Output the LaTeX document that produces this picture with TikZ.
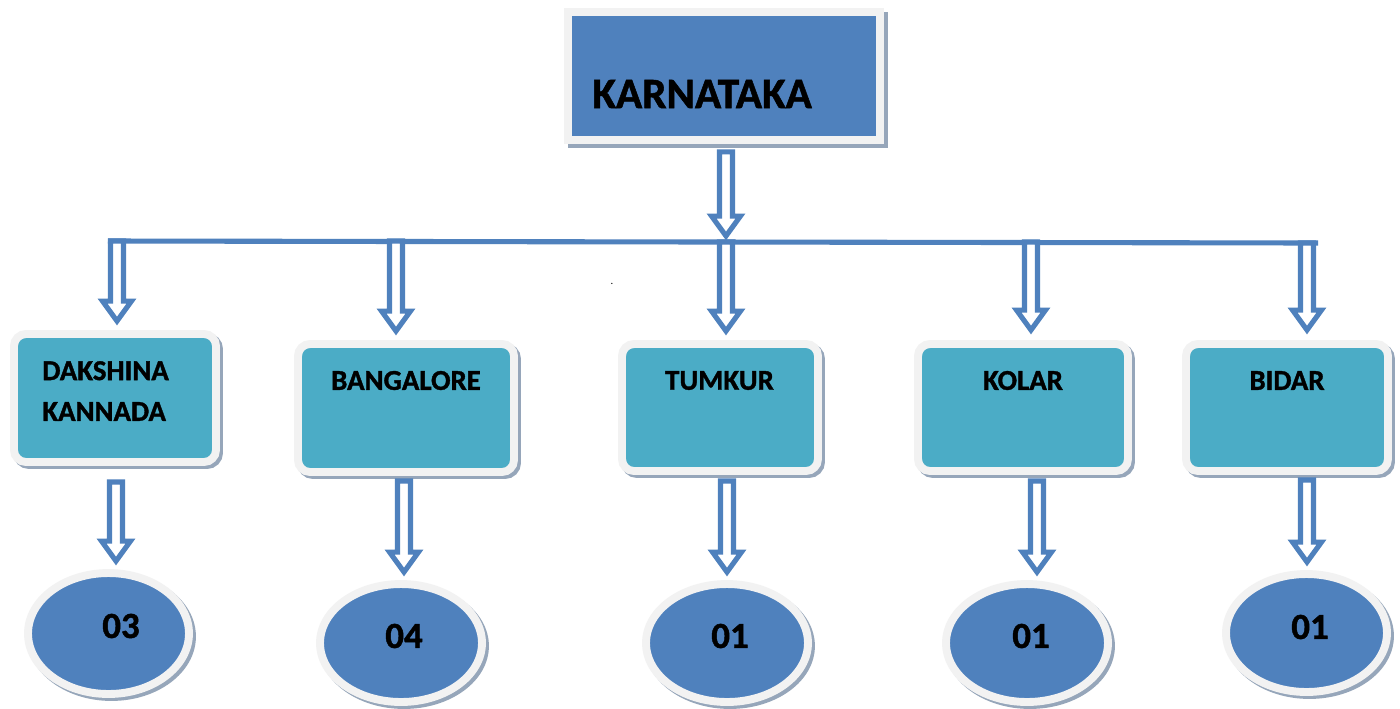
\documentclass[tikz,border=0pt]{standalone}
\usepackage{fontspec}
\setmainfont{Carlito}[BoldFeatures={FakeBold=1.2}]
\usetikzlibrary{shapes.geometric,shadows,calc}
\definecolor{karblue}{RGB}{79,129,189}
\definecolor{tealbox}{RGB}{75,172,198}
\definecolor{framegray}{RGB}{242,242,242}
\definecolor{shadowcol}{RGB}{150,166,186}
\newcommand\arrSW{3.7pt}
\newcommand\arrHW{8.2pt}
\newcommand\arrHL{11.3pt}
\newcommand\arrTO{2.3pt}
\newcommand\blockarrow[2]{%
  \draw[barrow] let \p1=#1, \p2=#2 in
   ({\x1-\arrSW},{\y1}) -- ({\x1-\arrSW},{\y2+\arrHL+\arrTO}) -- ({\x1-\arrHW},{\y2+\arrHL+\arrTO})
   -- ({\x1},{\y2+\arrTO}) -- ({\x1+\arrHW},{\y2+\arrHL+\arrTO}) -- ({\x1+\arrSW},{\y2+\arrHL+\arrTO})
   -- ({\x1+\arrSW},{\y1}) -- cycle;}
\tikzset{
  barrow/.style={draw=karblue, line width=2.9pt, fill=white, line join=miter},
  busline/.style={draw=karblue, line width=2.9pt},
  myshadow/.style={drop shadow={shadow xshift=#1, shadow yshift=-#1, fill=shadowcol, draw=shadowcol, line width=4.5pt, opacity=1}},
  kbox/.style={rectangle, draw=framegray, line width=4.5pt, fill=karblue, inner sep=0pt, myshadow=2.3pt},
  dbox/.style={rectangle, rounded corners=6.8pt, draw=framegray, line width=4.5pt, fill=tealbox, inner sep=0pt, myshadow=1.7pt},
  ell/.style={ellipse, draw=framegray, line width=4.5pt, fill=karblue, inner sep=0pt, myshadow=1.7pt},
  ktext/.style={font=\fontsize{24.6}{29}\selectfont\bfseries, inner sep=0pt},
  btext/.style={font=\fontsize{16.4}{23.2}\selectfont\bfseries, inner sep=0pt},
  ntext/.style={font=\fontsize{21}{25}\selectfont\bfseries, inner sep=0pt}
}
\begin{document}
\begin{tikzpicture}[x=0.02cm, y=-0.02cm]
\path[fill=white, use as bounding box] (0,0) rectangle (1400,708);

% top box
\node[kbox, minimum width=6.24cm, minimum height=2.56cm] (ka) at (724,76) {};
\node[ktext, anchor=west] (kat) at (592,94) {KARNATAKA};

% district boxes
\node[dbox, minimum width=4.04cm, minimum height=2.56cm] (dk) at (115,398) {};
\node[dbox, minimum width=4.32cm, minimum height=2.56cm] (bg) at (406,408) {};
\node[dbox, minimum width=3.92cm, minimum height=2.54cm] (tm) at (720,407.5) {};
\node[dbox, minimum width=4.20cm, minimum height=2.54cm] (kl) at (1023,407.5) {};
\node[dbox, minimum width=4.04cm, minimum height=2.54cm] (bd) at (1287,407.5) {};

\node[btext, anchor=west, align=left] (dkt) at (42,391) {DAKSHINA\\KANNADA};
\node[btext] (bgt) at (406,380.5) {BANGALORE};
\node[btext] (tmt) at (719.5,380.5) {TUMKUR};
\node[btext] (klt) at (1023,380.5) {KOLAR};
\node[btext] (bdt) at (1287,380.5) {BIDAR};

% ellipses
\node[ell, minimum width=3.22cm, minimum height=2.42cm] (e1) at (108.5,633.5) {};
\node[ell, minimum width=3.24cm, minimum height=2.36cm] (e2) at (401,643) {};
\node[ell, minimum width=3.24cm, minimum height=2.36cm] (e3) at (727,643) {};
\node[ell, minimum width=3.24cm, minimum height=2.36cm] (e4) at (1027,643) {};
\node[ell, minimum width=3.22cm, minimum height=2.36cm] (e5) at (1306.5,633) {};

\node[ntext] (n1) at (121,626) {03};
\node[ntext] (n2) at (404,636) {04};
\node[ntext] (n3) at (730,636) {01};
\node[ntext] (n4) at (1031,636) {01};
\node[ntext] (n5) at (1310,627) {01};

\node[font=\fontsize{6}{7}\selectfont, inner sep=0pt] (dot) at (612,284) {.};

% bus
\coordinate (busL) at (108,241);
\coordinate (busR) at (1318,243);
\draw[busline] (busL) -- (busR);

\coordinate (b1) at (117,241);
\coordinate (b2) at (396,241);
\coordinate (b3) at (726,242);
\coordinate (b4) at (1031,242);
\coordinate (b5) at (1307,243);

\blockarrow{($(ka.south)+(2,8)$)}{($(b3)+(0,-2)$)}
\blockarrow{(b1)}{($(b1 |- dk.north)+(0,-5)$)}
\blockarrow{(b2)}{($(b2 |- bg.north)+(0,-5)$)}
\blockarrow{(b3)}{($(b3 |- tm.north)+(0,-5)$)}
\blockarrow{(b4)}{($(b4 |- kl.north)+(0,-6)$)}
\blockarrow{(b5)}{($(b5 |- bd.north)+(0,-6)$)}

\coordinate (s1) at (116,482);
\coordinate (s2) at (404,481);
\coordinate (s3) at (727,481);
\coordinate (s4) at (1037,481);
\coordinate (s5) at (1307,480);

\blockarrow{(s1)}{($(s1 |- e1.north)+(0,-4)$)}
\blockarrow{(s2)}{($(s2 |- e2.north)+(0,-4)$)}
\blockarrow{(s3)}{($(s3 |- e3.north)+(0,-4)$)}
\blockarrow{(s4)}{($(s4 |- e4.north)+(0,-4)$)}
\blockarrow{(s5)}{($(s5 |- e5.north)+(0,-4)$)}
\end{tikzpicture}
\end{document}
